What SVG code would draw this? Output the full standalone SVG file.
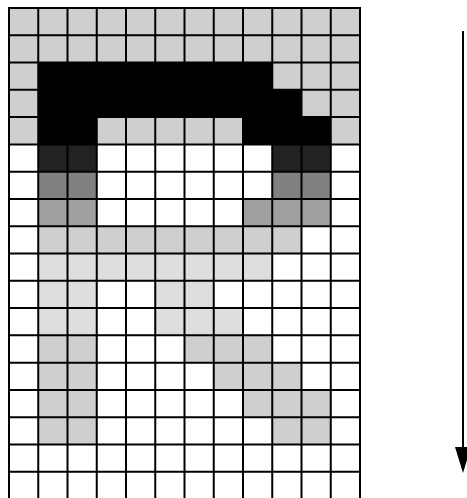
<svg xmlns="http://www.w3.org/2000/svg" width="467" height="498" viewBox="0 0 467 498">
  <style>
    .g{fill:#cfcfcf}
    .l{fill:#dedede}
    .k{fill:#000000}
    .d{fill:#222222}
    .m{fill:#808080}
    .s{fill:#a0a0a0}
    .grid{stroke:#000;stroke-width:2;fill:none}
    .arrow{stroke:#000;stroke-width:2;fill:none}
  </style>
  <defs>
    <marker id="ah" markerWidth="28" markerHeight="18" refX="0" refY="9" orient="auto" markerUnits="userSpaceOnUse">
      <path d="M0,1 L26,9 L0,17 z" fill="#000"/>
    </marker>
  </defs>
  <rect width="467" height="498" fill="#fff"/>
  <g id="cells">
    <rect class="g" x="9" y="8" width="351" height="136.4"/>
    <rect class="k" x="38.25" y="62.56" width="234" height="27.28"/>
    <rect class="k" x="38.25" y="89.84" width="263.25" height="27.28"/>
    <rect class="k" x="38.25" y="117.12" width="58.5" height="27.28"/>
    <rect class="k" x="243" y="117.12" width="87.75" height="27.28"/>
    <rect class="d" x="38.25" y="144.4" width="58.5" height="27.28"/>
    <rect class="d" x="272.25" y="144.4" width="58.5" height="27.28"/>
    <rect class="m" x="38.25" y="171.68" width="58.5" height="27.28"/>
    <rect class="m" x="272.25" y="171.68" width="58.5" height="27.28"/>
    <rect class="s" x="38.25" y="198.96" width="58.5" height="27.28"/>
    <rect class="s" x="243" y="198.96" width="87.75" height="27.28"/>
    <rect class="g" x="38.25" y="226.24" width="263.25" height="27.28"/>
    <rect class="l" x="38.25" y="253.52" width="234" height="27.28"/>
    <rect class="l" x="38.25" y="280.8" width="58.5" height="54.56"/>
    <rect class="l" x="155.25" y="280.8" width="58.5" height="27.28"/>
    <rect class="l" x="155.25" y="308.08" width="87.75" height="27.28"/>
    <rect class="g" x="38.25" y="335.36" width="58.5" height="109.12"/>
    <rect class="g" x="184.5" y="335.36" width="87.75" height="27.28"/>
    <rect class="g" x="213.75" y="362.64" width="87.75" height="27.28"/>
    <rect class="g" x="243" y="389.92" width="87.75" height="27.28"/>
    <rect class="g" x="272.25" y="417.2" width="58.5" height="27.28"/>
  </g>
  <g id="grid">
    <path class="grid" d="M9,8V500 M38.25,8V500 M67.5,8V500 M96.75,8V500 M126,8V500 M155.25,8V500 M184.5,8V500 M213.75,8V500 M243,8V500 M272.25,8V500 M301.5,8V500 M330.75,8V500 M360,8V500
      M8,8H361 M8,35.28H361 M8,62.56H361 M8,89.84H361 M8,117.12H361 M8,144.4H361 M8,171.68H361 M8,198.96H361 M8,226.24H361 M8,253.52H361 M8,280.8H361 M8,308.08H361 M8,335.36H361 M8,362.64H361 M8,389.92H361 M8,417.2H361 M8,444.48H361 M8,471.76H361"/>
  </g>
  <g id="connectors">
    <line class="arrow" x1="463" y1="31" x2="463" y2="447" marker-end="url(#ah)"/>
  </g>
</svg>
